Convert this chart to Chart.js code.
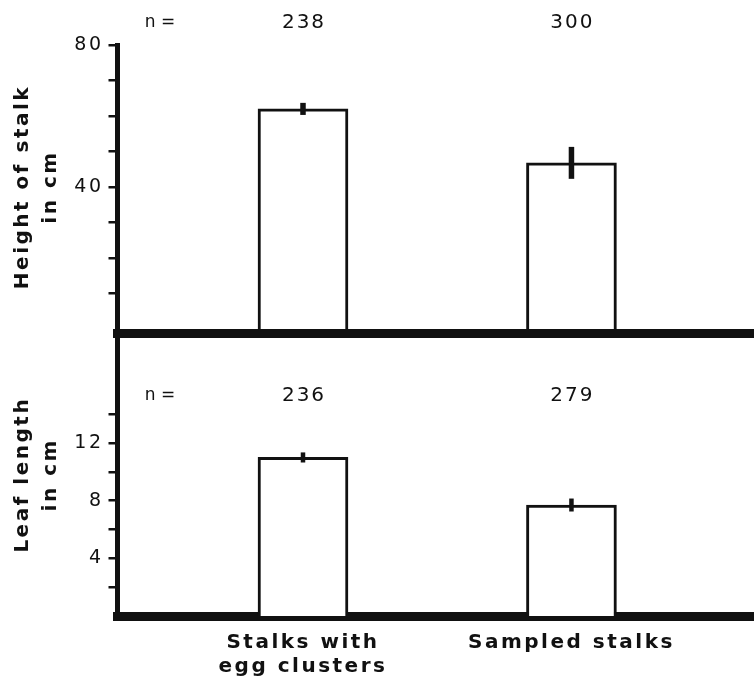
<!DOCTYPE html>
<html><head><meta charset="utf-8">
<script src="https://cdn.jsdelivr.net/npm/chart.js@4.4.1/dist/chart.umd.min.js"></script>
<style>
html,body{margin:0;padding:0;background:#fff;}
#wrap{position:relative;width:754px;height:683px;overflow:hidden;background:#fff;}
#topBox{position:absolute;left:0;top:0;width:754px;height:331px;}
#botBox{position:absolute;left:0;top:329px;width:754px;height:354px;}
</style></head><body>
<div id="wrap">
<div id="topBox"><canvas id="cTop"></canvas></div>
<div id="botBox"><canvas id="cBot"></canvas></div>
</div>
<script>
// ---- data ----
const categories = [['Stalks with', 'egg clusters'], ['Sampled stalks']];
const heightMeans = [62, 46.8];
const heightErrors = [1.7, 4.5];
const heightN = [238, 300];
const leafMeans = [11.0, 7.7];
const leafErrors = [0.35, 0.45];
const leafN = [236, 279];
const heightTickLabels = [40, 80];
const leafTickLabels = [4, 8, 12];

// ---- style ----
const INK = '#111';
const FAM = "'DejaVu Sans', sans-serif";

const spacingPlugin = {
  id: 'spacing',
  beforeDraw(chart) { chart.ctx.letterSpacing = '2.5px'; }
};

const errorBarPlugin = {
  id: 'errorBars',
  afterDatasetsDraw(chart, args, opts) {
    const ctx = chart.ctx;
    const xs = chart.scales.x, ys = chart.scales.y;
    const means = chart.data.datasets[0].data;
    ctx.save();
    ctx.strokeStyle = INK;
    ctx.lineWidth = opts.width;
    ctx.lineCap = 'butt';
    means.forEach((d, i) => {
      const e = opts.errors[i];
      const x = xs.getPixelForValue(d.x);
      ctx.beginPath();
      ctx.moveTo(x, ys.getPixelForValue(d.y - e));
      ctx.lineTo(x, ys.getPixelForValue(d.y + e));
      ctx.stroke();
    });
    ctx.restore();
  }
};

const nPlugin = {
  id: 'nLabels',
  afterDraw(chart, args, opts) {
    const ctx = chart.ctx;
    const xs = chart.scales.x;
    ctx.save();
    ctx.fillStyle = INK;
    ctx.textAlign = 'center';
    ctx.textBaseline = 'middle';
    ctx.letterSpacing = '0px';
    ctx.font = '17px ' + FAM;
    ctx.fillText('n =', 160, opts.y);
    ctx.letterSpacing = '2px';
    ctx.font = '20px ' + FAM;
    opts.values.forEach((n, i) => {
      ctx.fillText(String(n), xs.getPixelForValue(i) + 1, opts.y);
    });
    ctx.restore();
  }
};

function xScale(showLabels) {
  return {
    type: 'linear', min: -0.691, max: 1.68, offset: false, display: showLabels,
    afterBuildTicks: s => { s.ticks = categories.map((c, i) => ({ value: i })); },
    afterFit: s => { s.height = showLabels ? 67 : 0; s.paddingLeft = 0; s.paddingRight = 0; },
    ticks: {
      autoSkip: false, maxRotation: 0, minRotation: 0, padding: 15, color: INK,
      font: { family: FAM, size: 20, weight: 'bold', lineHeight: 1.2 },
      callback: v => categories[v]
    },
    grid: { display: false, drawTicks: false },
    border: { display: true, width: 9, color: INK }
  };
}

function yScale(max, step, labels, title, topTick) {
  return {
    type: 'linear', min: 0, max: max,
    afterFit: s => { s.width = 117.5; s.paddingTop = 0; s.paddingBottom = 0; },
    afterBuildTicks: s => { s.ticks = s.ticks.filter(t => t.value > 0 && t.value <= topTick); },
    ticks: {
      stepSize: step, autoSkip: false, includeBounds: false, padding: 5, color: INK,
      font: { family: FAM, size: 19 },
      callback: v => labels.includes(v) ? String(v) : ''
    },
    grid: { display: true, drawOnChartArea: false, drawTicks: true, tickLength: 9, color: INK, lineWidth: 2.5 },
    border: { display: true, width: 5, color: INK },
    title: {
      display: true, text: title, color: INK,
      font: { family: FAM, size: 20, weight: 'bold', lineHeight: 1.4 },
      padding: { top: 9, bottom: 0 }
    }
  };
}

function barDataset(means) {
  return {
    type: 'bar',
    data: means.map((v, i) => ({ x: i, y: v })),
    backgroundColor: '#fff',
    borderColor: INK,
    borderWidth: 3,
    borderSkipped: 'start',
    barThickness: 90
  };
}

const common = {
  responsive: true, maintainAspectRatio: false, animation: false, devicePixelRatio: 1,
  events: []
};

new Chart(document.getElementById('cTop'), {
  type: 'bar',
  data: { datasets: [barDataset(heightMeans)] },
  options: Object.assign({}, common, {
    layout: { padding: { top: 45, bottom: 2, left: 0, right: 0 } },
    scales: {
      x: xScale(false),
      y: yScale(80, 10, heightTickLabels, ['Height of stalk', 'in cm'], 80)
    },
    plugins: {
      legend: { display: false }, tooltip: { enabled: false },
      errorBars: { errors: heightErrors, width: 5.5 },
      nLabels: { values: heightN, y: 23 }
    }
  }),
  plugins: [spacingPlugin, errorBarPlugin, nPlugin]
});

const xTop = xScale(false);
xTop.display = true;
xTop.position = 'top';
xTop.ticks = { display: false };
xTop.afterBuildTicks = undefined;
xTop.afterFit = s => { s.height = 0; s.paddingLeft = 0; s.paddingRight = 0; };

new Chart(document.getElementById('cBot'), {
  type: 'bar',
  data: { datasets: [barDataset(leafMeans)] },
  options: Object.assign({}, common, {
    layout: { padding: { top: 4.5, bottom: 0, left: 0, right: 0 } },
    scales: {
      x: xScale(true),
      x2: xTop,
      y: yScale(19.6, 2, leafTickLabels, ['Leaf length', 'in cm'], 14)
    },
    plugins: {
      legend: { display: false }, tooltip: { enabled: false },
      errorBars: { errors: leafErrors, width: 4.5 },
      nLabels: { values: leafN, y: 67 }
    }
  }),
  plugins: [spacingPlugin, errorBarPlugin, nPlugin]
});
</script>
</body></html>
